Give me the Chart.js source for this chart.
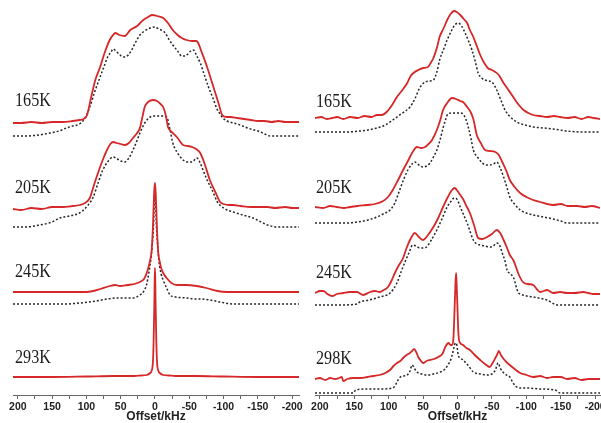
<!DOCTYPE html>
<html><head><meta charset="utf-8">
<script src="https://cdn.jsdelivr.net/npm/chart.js@4.4.0/dist/chart.umd.min.js"></script>
<style>
html,body{margin:0;padding:0;background:#fff;}
#wrap{position:relative;width:601px;height:423px;overflow:hidden;background:#fff;}
.panel{position:absolute;top:0;height:423px;overflow:hidden;}
#pl{left:0;width:310px;z-index:1;}
#pr{left:301px;width:300px;z-index:2;}
canvas{display:block;}
</style></head><body>
<div id="wrap">
<div class="panel" id="pl"><canvas id="cl" width="320" height="423"></canvas></div>
<div class="panel" id="pr"><canvas id="cr" width="320" height="423"></canvas></div>
</div>
<script>
// ---------- tick labels / categories ----------
const tempsLeft = ['165K', '205K', '245K', '293K'];
const tempsRight = ['165K', '205K', '245K', '298K'];
const axisTitle = 'Offset/kHz';

// ---------- vertical stacking offsets (intensity units) ----------
const offLeftRed = [273, 187, 103, 18];
const offLeftBlack = [259, 168, 91];
const offRightRed = [277, 188, 102, 16];
const offRightBlack = [263, 172, 90, 2];

// ---------- LEFT panel spectra (offset kHz, intensity) ----------
const xL165r = [207,195,180,165,150,135,120,110,104,99,93,87,80,73,66,61,58,52,44,36,26,17,10,4,-3,-12,-20,-26,-33,-39,-46,-54,-60,-63,-68,-76,-82,-88,-93,-98,-104,-110,-120,-130,-140,-150,-160,-170,-180,-190,-200,-210];
const yL165r = [-1,-1,0,-1,0,0,1,2,3,7,25,42,55,70,82,87,89,87,86,92,96,102,105,107,106,104,98,92,87,84,82,81,81,79,70,55,42,29,18,7,5,5,4,3,2,1,1,0,1,0,0,0];
const xL165b = [207,190,170,153,140,129,120,110,102,95,88,80,74,69,64,61,57,54,49,44,39,34,28,22,15,7,0,-3,-9,-15,-20,-26,-33,-39,-44,-48,-52,-56,-61,-66,-72,-78,-85,-91,-95,-99,-105,-115,-124,-135,-145,-154,-160,-168,-180,-195,-210];
const yL165b = [0,0,1,3,5,8,10,12,18,29,44,59,70,79,84,87,85,83,80,79,81,86,94,101,105,108,109,108,106,103,97,91,85,80,80,82,85,86,80,73,61,49,37,26,22,18,15,13,11,8,6,4,2,0,0,0,0];

const xL205r = [207,195,180,165,150,135,120,110,102,95,88,80,75,70,65,61,56,50,44,38,32,26,22,18,15,10,3,-3,-8,-12,-16,-19,-23,-26,-33,-41,-48,-54,-60,-66,-72,-80,-88,-95,-100,-108,-114,-125,-140,-155,-164,-175,-190,-200,-210];
const yL205r = [-1,-2,0,-1,1,1,2,3,5,10,25,41,50,58,64,66,65,64,63,65,70,75,80,92,101,106,108,107,104,101,92,81,77,75,70,63,62,61,59,55,45,28,16,6,4,3,3,2,1,1,1,0,1,0,0];
const xL205b = [207,190,168,150,139,125,110,100,90,83,76,68,61,55,50,44,38,32,27,22,15,7,0,-8,-17,-22,-26,-33,-41,-48,-54,-61,-66,-70,-76,-84,-91,-100,-114,-128,-143,-155,-164,-180,-195,-210];
const yL205b = [0,0,2,5,9,11,14,20,30,44,57,66,70,68,66,65,69,77,85,94,104,110,111,111,110,97,84,74,67,65,65,69,64,57,47,36,25,19,15,12,9,5,2,0,0,0];

const xL245r = [207,180,150,120,100,90,80,66,58,51,40,30,22,16,12,9,7,5,4,3,2,1,0,-1,-2,-3,-4,-5,-7,-9,-12,-17,-24,-32,-45,-61,-75,-91,-105,-130,-160,-210];
const yL245r = [0,0,0,0,0,1,3,6,7,6,7,8,10,13,19,26,32,40,50,65,85,102,109,100,82,62,48,38,30,24,19,14,9,7,7,6,4,1,0,0,0,0];
const xL245b = [207,150,130,110,95,85,70,58,45,32,22,17,12,9,6,4,2,1,0,-1,-2,-4,-6,-9,-12,-17,-22,-30,-47,-60,-66,-80,-95,-114,-130,-160,-210];
const yL245b = [0,0,0,1,2,3,5,6,6,6,9,12,20,31,45,60,80,100,110,100,80,58,42,30,24,16,9,7,6,5,5,4,2,0,0,0,0];

const xL293r = [207,150,100,60,30,20,12,7,5,3,2,1,0.5,0,-0.5,-1,-2,-3,-5,-7,-12,-20,-30,-60,-100,-150,-210];
const yL293r = [0,0,0.5,1,1,1.5,2,4,6,15,35,70,95,109,95,70,35,15,6,4,2,1.5,1,1,0.5,0,0];

// ---------- RIGHT panel spectra ----------
const xR165r = [207,198,190,182,175,166,156,145,135,125,117,110,103,95,88,80,73,68,64,57,50,43,39,35,30,26,20,15,10,5,1,-4,-9,-14,-18,-23,-28,-33,-38,-44,-50,-55,-60,-66,-73,-81,-88,-96,-103,-110,-120,-130,-140,-149,-160,-170,-180,-190,-198,-207];
const yR165r = [0,1,-1,0,1,-1,1,0,2,1,3,3,6,13,21,28,35,42,45,48,50,51,55,60,70,81,90,98,104,107,106,103,99,95,88,81,72,63,56,50,48,46,43,36,29,21,14,8,5,3,2,1,2,1,0,1,-1,1,0,-1];
const xR165b = [207,180,160,142,130,117,105,94,82,69,62,55,47,41,35,30,26,20,15,9,4,-1,-6,-11,-16,-21,-26,-30,-35,-40,-45,-50,-57,-63,-69,-77,-86,-98,-110,-125,-139,-159,-180,-207];
const yR165b = [0,0,0,1,2,4,7,12,18,25,33,44,50,51,52,60,72,83,92,101,107,109,106,99,91,82,70,59,54,52,51,50,42,32,22,15,10,7,5,4,3,1,0,0];

const xR205r = [207,195,185,175,165,156,145,132,120,108,101,94,87,79,72,66,59,53,47,42,37,30,25,21,15,8,2,-4,-8,-14,-19,-23,-28,-33,-40,-47,-55,-60,-65,-71,-76,-83,-91,-100,-110,-120,-130,-139,-150,-160,-174,-185,-195,-207];
const yR205r = [0,-1,1,0,-1,0,1,2,3,6,10,17,26,37,46,54,60,59,60,63,67,77,87,97,104,109,108,106,105,100,95,88,72,65,57,56,55,52,45,36,27,20,14,10,7,5,3,2,3,1,1,0,1,-1];
const xR205b = [207,180,160,146,130,117,108,98,91,84,78,72,66,62,56,50,45,40,35,30,25,21,17,14,8,2,-4,-8,-12,-16,-20,-23,-30,-36,-42,-47,-52,-57,-62,-67,-72,-76,-84,-91,-100,-110,-125,-139,-150,-159,-180,-207];
const yR205b = [0,0,0,1,3,6,9,13,20,33,44,53,59,61,58,56,57,60,66,73,84,95,104,109,110,110,110,109,104,95,83,73,65,60,58,58,59,61,55,46,35,26,18,13,10,8,6,4,2,0,0,0];

const xR245r = [207,200,195,189,182,175,166,157,146,137,127,120,113,107,101,96,91,85,79,74,69,65,62,56,50,44,35,28,21,14,8,4,0,-4,-8,-13,-18,-24,-30,-36,-43,-50,-57,-62,-67,-72,-76,-81,-85,-88,-95,-102,-110,-115,-120,-125,-130,-139,-149,-159,-170,-183,-190,-197,-207];
const yR245r = [0,2,2,-1,-3,-1,0,1,1,-2,1,2,1,3,6,12,20,28,35,45,53,58,60,56,53,57,66,75,86,96,103,105,102,98,94,87,80,68,55,54,56,59,63,60,53,45,38,33,26,20,11,9,8,4,1,2,3,0,1,0,0,1,0,-1,-1];
const xR245b = [207,170,146,142,128,113,98,88,81,75,70,65,60,55,50,45,38,30,22,15,9,5,1,-4,-9,-14,-18,-23,-28,-33,-40,-47,-52,-57,-61,-65,-69,-72,-77,-81,-88,-95,-110,-130,-145,-170,-207];
const yR245b = [0,0,1,3,5,8,12,22,35,45,53,60,59,57,57,58,65,75,87,98,104,107,106,98,90,82,74,65,61,60,59,58,59,62,60,52,44,35,31,28,13,10,8,5,0,0,0];

const xR298r = [207,200,192,185,178,172,168,166,160,151,140,131,122,113,105,98,93,88,83,79,74,69,66,63,60,57,53,50,45,40,34,28,22,17,13,10,8,6,5,4,3,2,1,0,-1,-2,-4,-8,-13,-18,-25,-33,-40,-47,-51,-55,-58,-60,-63,-66,-71,-76,-83,-91,-100,-110,-120,-130,-139,-150,-159,-170,-180,-190,-203,-207];
const yR298r = [0,1,-1,1,0,1,2,-2,0,1,1,2,3,4,6,9,13,16,18,21,24,26,28,30,27,22,18,16,18,19,20,22,25,33,36,34,34,40,55,75,95,106,90,70,50,40,36,34,31,29,24,19,15,12,16,21,25,28,24,21,17,14,10,6,4,2,3,1,2,2,0,1,-1,0,0,0];
const xR298b = [207,160,151,148,130,110,94,90,88,83,78,73,69,66,62,59,52,44,35,25,18,14,10,7,5,3,1,-1,-4,-8,-15,-23,-33,-43,-50,-55,-59,-62,-66,-71,-76,-80,-84,-92,-101,-120,-142,-146,-149,-170,-207];
const yR298b = [0,0,0,3,4,4,5,8,11,16,17,18,22,28,24,21,19,18,19,21,24,28,33,40,46,50,48,38,35,33,28,21,19,18,19,23,30,25,21,18,16,11,7,5,5,4,3,1,0,0,0];

// ---------- styles ----------
const RED = '#d62828';
const DARK = '#262626';

function series(xs, ys, off, isRed) {
  return {
    data: xs.map((x, i) => ({x: x, y: ys[i] + off})),
    borderColor: isRed ? RED : DARK,
    borderWidth: isRed ? 1.8 : 1.5,
    borderDash: isRed ? [] : [2, 2],
    pointRadius: 0,
    fill: false,
    cubicInterpolationMode: 'monotone',
    borderJoinStyle: 'round'
  };
}

const tempLabelPlugin = {
  id: 'tempLabels',
  afterDatasetsDraw(chart, args, opts) {
    const ctx = chart.ctx;
    ctx.save();
    ctx.font = '19px "Liberation Serif", "DejaVu Serif", serif';
    ctx.fillStyle = '#1a1a1a';
    ctx.textBaseline = 'alphabetic';
    opts.items.forEach(it => {
      ctx.save();
      ctx.translate(it.x, it.y);
      ctx.scale(0.85, 1);
      ctx.fillText(it.text, 0, 0);
      ctx.restore();
    });
    ctx.restore();
  }
};

function makeChart(id, datasets, xmin, xmax, padL, labels) {
  return new Chart(document.getElementById(id), {
    type: 'line',
    data: { datasets: datasets },
    plugins: [tempLabelPlugin],
    options: {
      responsive: false,
      devicePixelRatio: 1,
      animation: false,
      events: [],
      layout: { padding: { left: padL, right: 21, top: 0, bottom: 0 } },
      plugins: {
        legend: { display: false },
        tooltip: { enabled: false },
        tempLabels: { items: labels }
      },
      scales: {
        x: {
          type: 'linear', reverse: true, min: xmin, max: xmax,
          afterBuildTicks: s => { s.ticks = s.ticks.filter(t => t.value % 25 === 0); },
          afterFit: s => { s.height = 28; },
          ticks: {
            stepSize: 25, autoSkip: false, maxRotation: 0, minRotation: 0, includeBounds: false,
            padding: 2, color: '#222',
            font: { family: '"Liberation Sans", Arial, sans-serif', size: 10.5, weight: 'bold' },
            callback: v => (v % 50 === 0 ? String(v) : '')
          },
          grid: { drawOnChartArea: false, drawTicks: true, tickLength: 4, color: '#666', lineWidth: 1 },
          border: { display: true, color: '#666', width: 1 },
          title: {
            display: true, text: axisTitle, color: '#222',
            font: { family: '"Liberation Sans", Arial, sans-serif', size: 12, weight: 'bold', lineHeight: 1 },
            padding: { top: 0, bottom: 0 }
          }
        },
        y: { type: 'linear', display: false, min: 0, max: 395 }
      }
    }
  });
}

const leftSets = [
  series(xL165r, yL165r, offLeftRed[0], true),
  series(xL205r, yL205r, offLeftRed[1], true),
  series(xL245r, yL245r, offLeftRed[2], true),
  series(xL293r, yL293r, offLeftRed[3], true),
  series(xL165b, yL165b, offLeftBlack[0], false),
  series(xL205b, yL205b, offLeftBlack[1], false),
  series(xL245b, yL245b, offLeftBlack[2], false)
];
const rightSets = [
  series(xR165r, yR165r, offRightRed[0], true),
  series(xR205r, yR205r, offRightRed[1], true),
  series(xR245r, yR245r, offRightRed[2], true),
  series(xR298r, yR298r, offRightRed[3], true),
  series(xR165b, yR165b, offRightBlack[0], false),
  series(xR205b, yR205b, offRightBlack[1], false),
  series(xR245b, yR245b, offRightBlack[2], false),
  series(xR298b, yR298b, offRightBlack[3], false)
];

const labelYLeft = [106, 193, 277, 363];
const labelYRight = [107, 193, 278, 364];

makeChart('cl', leftSets, -210, 207, 13, tempsLeft.map((t, i) => ({ text: t, x: 15, y: labelYLeft[i] })));
makeChart('cr', rightSets, -207, 207, 14, tempsRight.map((t, i) => ({ text: t, x: 15, y: labelYRight[i] })));
</script>
</body></html>
